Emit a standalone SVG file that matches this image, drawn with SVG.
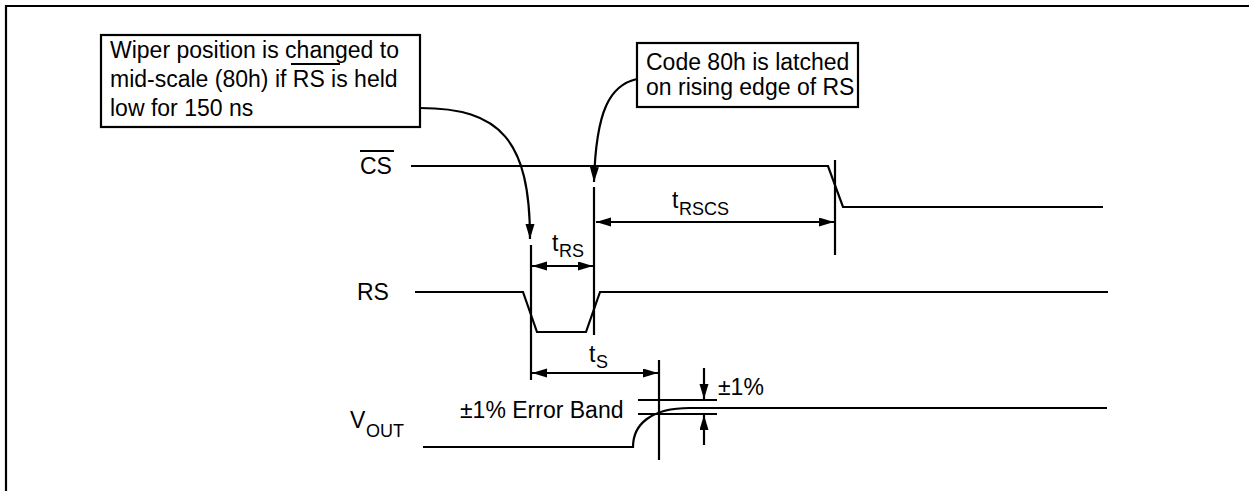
<svg xmlns="http://www.w3.org/2000/svg" width="1249" height="491" viewBox="0 0 1249 491">
<style>
text{font-family:'Liberation Sans',Arial,sans-serif;fill:#000}
.t{font-size:23px}
.sub{font-size:18px}
.ln{fill:none;stroke:#000;stroke-width:2.2}
.box{fill:#fff;stroke:#000;stroke-width:2.2}
</style>
<defs>
<marker id="ah" markerUnits="userSpaceOnUse" markerWidth="16" markerHeight="10" refX="15" refY="4.5" orient="auto-start-reverse"><path d="M0,0 L15,4.5 L0,9 z" fill="#000"/></marker>
</defs>
<rect width="1249" height="491" fill="#fff"/>
<path class="ln" d="M6,491 V6 H1249"/>
<g id="note1">
<rect class="box" x="101" y="35" width="319" height="92"/>
<text class="t"><tspan x="110" y="58">Wiper position is changed to</tspan><tspan x="110" y="87">mid-scale (80h) if RS is held</tspan><tspan x="110" y="116">low for 150 ns</tspan></text>
<line class="ln" x1="291" y1="64" x2="340" y2="64"/>
</g>
<g id="note2">
<rect class="box" x="637" y="43" width="221" height="64"/>
<text class="t"><tspan x="646" y="70">Code 80h is latched</tspan><tspan x="646" y="95">on rising edge of RS</tspan></text>
</g>
<g id="cs">
<text class="t" x="360" y="174">CS</text>
<line class="ln" x1="360" y1="151" x2="394" y2="151"/>
<polyline class="ln" points="411,166 828,166 843,207 1103,207"/>
</g>
<g id="rs">
<text class="t" x="357" y="300">RS</text>
<polyline class="ln" points="415,292 523,292 537,332 586,332 600,292 1108,292"/>
</g>
<g id="vout">
<text class="t" x="350" y="428">V</text>
<text class="sub" x="366" y="437">OUT</text>
<path class="ln" d="M423,447 L633,447 C633,425 650,408 690,408 L1107,408"/>
</g>
<g id="labels">
<text class="t" x="672" y="208">t</text><text class="sub" x="679" y="215">RSCS</text>
<text class="t" x="552" y="251">t</text><text class="sub" x="559" y="257">RS</text>
<text class="t" x="589" y="362">t</text><text class="sub" x="596" y="368">S</text>
<text class="t" x="460" y="418">±1% Error Band</text>
<text class="t" x="718" y="395">±1%</text>
</g>
<g id="connectors">
<path class="ln" d="M420,108 C500,108 530,140 530,239" marker-end="url(#ah)"/>
<path class="ln" d="M637,79 C610,85 596,110 594,182" marker-end="url(#ah)"/>
<line class="ln" x1="835" y1="160" x2="835" y2="255"/>
<line class="ln" x1="594" y1="187" x2="594" y2="335"/>
<line class="ln" x1="531" y1="245" x2="531" y2="380"/>
<line class="ln" x1="659" y1="360" x2="659" y2="460"/>
<line class="ln" x1="596" y1="222" x2="834" y2="222" marker-start="url(#ah)" marker-end="url(#ah)"/>
<line class="ln" x1="532" y1="266" x2="593" y2="266" marker-start="url(#ah)" marker-end="url(#ah)"/>
<line class="ln" x1="532" y1="373" x2="658" y2="373" marker-start="url(#ah)" marker-end="url(#ah)"/>
<line class="ln" x1="638" y1="400" x2="717" y2="400"/>
<line class="ln" x1="638" y1="414" x2="717" y2="414"/>
<line class="ln" x1="704" y1="368" x2="704" y2="399" marker-end="url(#ah)"/>
<line class="ln" x1="704" y1="445" x2="704" y2="415" marker-end="url(#ah)"/>
</g>
</svg>
